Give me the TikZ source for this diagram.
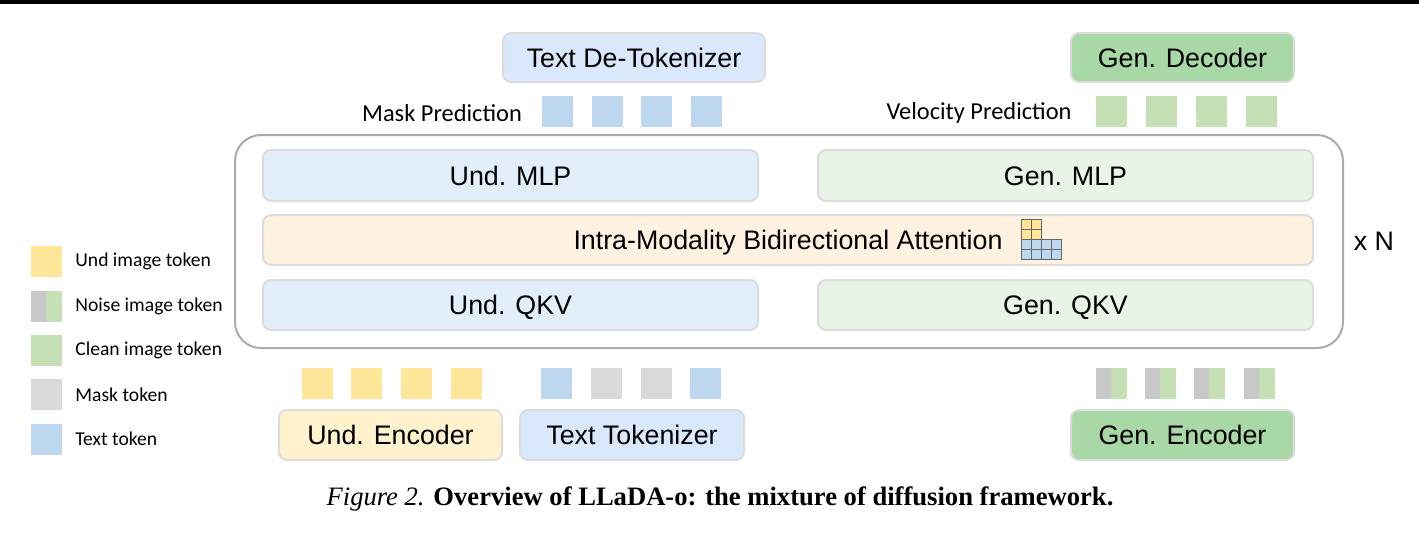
\documentclass[tikz,border=0pt]{standalone}
\usepackage{fontspec}
\setmainfont{Liberation Serif}
\newfontfamily\arialf{Liberation Sans}
\newfontfamily\calf{Carlito}
\definecolor{boxgray}{HTML}{DCDCDC}
\definecolor{outergray}{HTML}{ABABAB}
\definecolor{tblue}{HTML}{BDD7EE}
\definecolor{tgreen}{HTML}{C5E0B4}
\definecolor{tyellow}{HTML}{FFE699}
\definecolor{tgray}{HTML}{D9D9D9}
\definecolor{ngray}{HTML}{C8C8C8}
\definecolor{detok}{HTML}{DAE8FC}
\definecolor{gendark}{HTML}{A8D8A6}
\definecolor{undenc}{HTML}{FFF2CC}
\definecolor{undlight}{HTML}{E2EFFA}
\definecolor{genlight}{HTML}{E8F5E6}
\definecolor{attn}{HTML}{FFF2E0}
\begin{document}
\begin{tikzpicture}[x=0.5pt,y=-0.5pt,
  blk/.style={draw=boxgray, line width=1pt, rounded corners=4pt, inner sep=0pt,
    font=\arialf\fontsize{13.4}{15}\selectfont, text=black, text height=9.6pt, text depth=0pt},
  tok/.style={minimum size=16pt, inner sep=0pt, draw=white, line width=0.4pt},
  noisetok/.style={tok, fill=tgreen, path picture={\fill[ngray] (path picture bounding box.south west) rectangle (path picture bounding box.north);}},
  lbl/.style={font=\calf\fontsize{12.2}{14}\selectfont, inner sep=0pt},
  leg/.style={font=\calf\fontsize{9.8}{12}\selectfont, inner sep=0pt, anchor=west},
  cell/.style={draw=gray!80!black, line width=0.5pt}
]
\useasboundingbox (0,0) rectangle (1419,532);
\fill[black] (0,0) rectangle (1419,3.5);

% top boxes
\node[blk, fill=detok, minimum width=131pt, minimum height=24.5pt] (detok) at (634,57.5) {Text De-Tokenizer};
\node[blk, fill=gendark, minimum width=111.5pt, minimum height=24.5pt] (gdec) at (1182.5,57.5) {Gen. Decoder};

% prediction labels and tokens
\node[lbl] (maskpred) at (442,113) {Mask Prediction};
\foreach \i/\x in {1/557,2/607,3/656,4/706}
  \node[tok, fill=tblue] (mp\i) at (\x,111) {};
\node[lbl] (velpred) at (979,113) {Velocity Prediction};
\foreach \i/\x in {1/1111,2/1161,3/1211,4/1261}
  \node[tok, fill=tgreen] (vp\i) at (\x,111) {};

% outer block
\node[draw=outergray, line width=1pt, rounded corners=13pt, minimum width=554pt, minimum height=106.5pt, inner sep=0pt] (outer) at (789,241.5) {};
\node[font=\arialf\fontsize{13.4}{15}\selectfont] (xn) at (1374,241) {x N};

\node[blk, fill=undlight, minimum width=247.5pt, minimum height=25.5pt] (umlp) at (510.5,175.5) {Und. MLP};
\node[blk, fill=genlight, minimum width=247.5pt, minimum height=25.5pt] (gmlp) at (1065.5,175.5) {Gen. MLP};
\node[blk, fill=attn, minimum width=525pt, minimum height=25pt] (att) at (788,240) {Intra-Modality Bidirectional Attention};
\node[blk, fill=undlight, minimum width=247.5pt, minimum height=25pt] (uqkv) at (510.5,305) {Und. QKV};
\node[blk, fill=genlight, minimum width=247.5pt, minimum height=25pt] (gqkv) at (1065.5,305) {Gen. QKV};

% attention icon
\foreach \c in {0,1} \foreach \r in {0,1}
  \draw[cell, fill=tyellow] (1021+10*\c,219+10*\r) rectangle ++(10,10);
\foreach \c in {0,1,2,3} \foreach \r in {0,1}
  \draw[cell, fill=tblue] (1021+10*\c,239+10*\r) rectangle ++(10,10);

% bottom tokens
\foreach \i/\x in {1/317,2/366,3/416,4/466}
  \node[tok, fill=tyellow] (ui\i) at (\x,383) {};
\node[tok, fill=tblue] (tt1) at (556,383) {};
\node[tok, fill=tgray] (tt2) at (606,383) {};
\node[tok, fill=tgray] (tt3) at (656,383) {};
\node[tok, fill=tblue] (tt4) at (705,383) {};
\foreach \i/\x in {1/1111,2/1160,3/1209,4/1259}
  \node[noisetok] (nt\i) at (\x,383) {};

% bottom boxes
\node[blk, fill=undenc, minimum width=111.5pt, minimum height=25pt] (uenc) at (390.5,435) {Und. Encoder};
\node[blk, fill=detok, minimum width=112pt, minimum height=25pt] (ttok) at (632,435) {Text Tokenizer};
\node[blk, fill=gendark, minimum width=111.5pt, minimum height=25pt] (genc) at (1182.5,435) {Gen. Encoder};

% legend
\node[tok, fill=tyellow] (l1) at (46,261) {};
\node[leg] (l1t) at (75,261) {Und image token};
\node[noisetok] (l2) at (46,306) {};
\node[leg] (l2t) at (75,306) {Noise image token};
\node[tok, fill=tgreen] (l3) at (46,350) {};
\node[leg] (l3t) at (75,350) {Clean image token};
\node[tok, fill=tgray] (l4) at (46,394) {};
\node[leg] (l4t) at (75,395) {Mask token};
\node[tok, fill=tblue] (l5) at (46,439) {};
\node[leg] (l5t) at (75,439) {Text token};

% caption
\node[font=\fontsize{13.3}{15}\selectfont, inner sep=0pt] (cap) at (720,499) {\textit{Figure 2.} \textbf{Overview of LLaDA-o: the mixture of diffusion framework.}};
\end{tikzpicture}
\end{document}
